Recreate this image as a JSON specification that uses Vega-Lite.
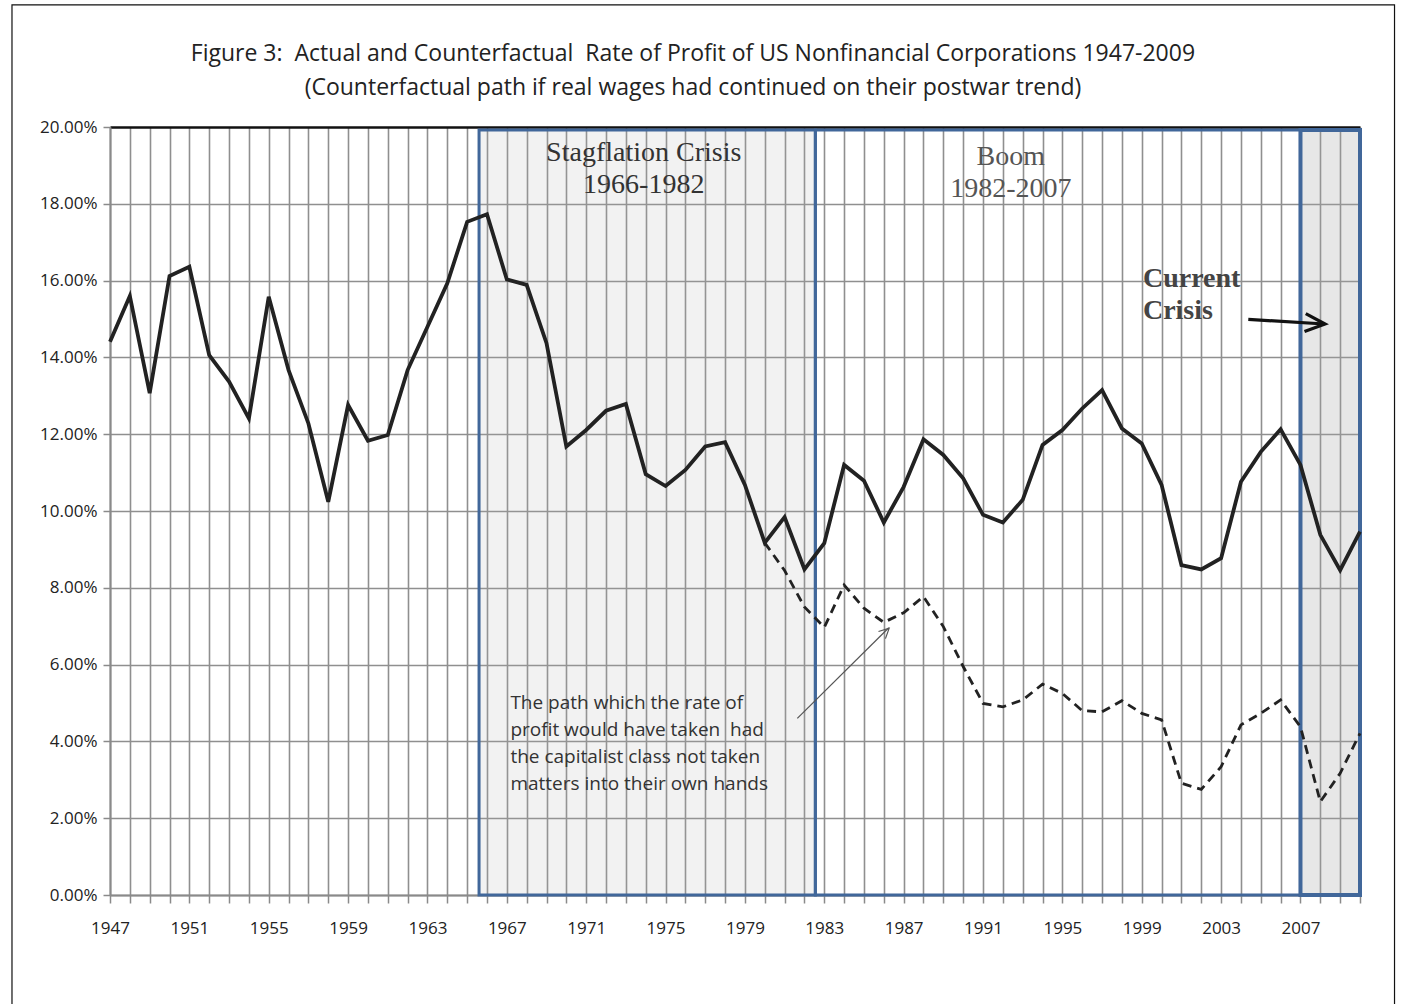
{
  "$schema": "https://vega.github.io/schema/vega-lite/v6.json",
  "autosize": "none",
  "width": 1250,
  "height": 768,
  "padding": {"left": 110, "top": 127, "right": 44, "bottom": 109},
  "background": "white",
  "config": {"view": {"stroke": null}},
  "datasets": {
    "actual": [
      {"year": 1947, "rate": 0.1441}, {"year": 1948, "rate": 0.1560}, {"year": 1949, "rate": 0.1307},
      {"year": 1950, "rate": 0.1612}, {"year": 1951, "rate": 0.1636}, {"year": 1952, "rate": 0.1406},
      {"year": 1953, "rate": 0.1337}, {"year": 1954, "rate": 0.1241}, {"year": 1955, "rate": 0.1558},
      {"year": 1956, "rate": 0.1367}, {"year": 1957, "rate": 0.1228}, {"year": 1958, "rate": 0.1024},
      {"year": 1959, "rate": 0.1276}, {"year": 1960, "rate": 0.1183}, {"year": 1961, "rate": 0.1198},
      {"year": 1962, "rate": 0.1367}, {"year": 1963, "rate": 0.1480}, {"year": 1964, "rate": 0.1593},
      {"year": 1965, "rate": 0.1753}, {"year": 1966, "rate": 0.1773}, {"year": 1967, "rate": 0.1603},
      {"year": 1968, "rate": 0.1589}, {"year": 1969, "rate": 0.1437}, {"year": 1970, "rate": 0.1168},
      {"year": 1971, "rate": 0.1211}, {"year": 1972, "rate": 0.1261}, {"year": 1973, "rate": 0.1279},
      {"year": 1974, "rate": 0.1096}, {"year": 1975, "rate": 0.1065}, {"year": 1976, "rate": 0.1107},
      {"year": 1977, "rate": 0.1168}, {"year": 1978, "rate": 0.1179}, {"year": 1979, "rate": 0.1068},
      {"year": 1980, "rate": 0.0917}, {"year": 1981, "rate": 0.0984}, {"year": 1982, "rate": 0.0848},
      {"year": 1983, "rate": 0.0916}, {"year": 1984, "rate": 0.1120}, {"year": 1985, "rate": 0.1079},
      {"year": 1986, "rate": 0.0970}, {"year": 1987, "rate": 0.1063}, {"year": 1988, "rate": 0.1187},
      {"year": 1989, "rate": 0.1146}, {"year": 1990, "rate": 0.1085}, {"year": 1991, "rate": 0.0990},
      {"year": 1992, "rate": 0.0970}, {"year": 1993, "rate": 0.1029}, {"year": 1994, "rate": 0.1172},
      {"year": 1995, "rate": 0.1211}, {"year": 1996, "rate": 0.1267}, {"year": 1997, "rate": 0.1315},
      {"year": 1998, "rate": 0.1215}, {"year": 1999, "rate": 0.1176}, {"year": 2000, "rate": 0.1068},
      {"year": 2001, "rate": 0.0859}, {"year": 2002, "rate": 0.0848}, {"year": 2003, "rate": 0.0877},
      {"year": 2004, "rate": 0.1076}, {"year": 2005, "rate": 0.1154}, {"year": 2006, "rate": 0.1213},
      {"year": 2007, "rate": 0.1120}, {"year": 2008, "rate": 0.0938}, {"year": 2009, "rate": 0.0846},
      {"year": 2010, "rate": 0.0946}
    ],
    "counterfactual": [
      {"year": 1980, "rate": 0.0917}, {"year": 1981, "rate": 0.0845}, {"year": 1982, "rate": 0.0750},
      {"year": 1983, "rate": 0.0697}, {"year": 1984, "rate": 0.0807}, {"year": 1985, "rate": 0.0747},
      {"year": 1986, "rate": 0.0710}, {"year": 1987, "rate": 0.0735}, {"year": 1988, "rate": 0.0777},
      {"year": 1989, "rate": 0.0699}, {"year": 1990, "rate": 0.0595}, {"year": 1991, "rate": 0.0499},
      {"year": 1992, "rate": 0.0490}, {"year": 1993, "rate": 0.0508}, {"year": 1994, "rate": 0.0549},
      {"year": 1995, "rate": 0.0525}, {"year": 1996, "rate": 0.0480}, {"year": 1997, "rate": 0.0477},
      {"year": 1998, "rate": 0.0506}, {"year": 1999, "rate": 0.0473}, {"year": 2000, "rate": 0.0456},
      {"year": 2001, "rate": 0.0291}, {"year": 2002, "rate": 0.0275}, {"year": 2003, "rate": 0.0334},
      {"year": 2004, "rate": 0.0443}, {"year": 2005, "rate": 0.0473}, {"year": 2006, "rate": 0.0508},
      {"year": 2007, "rate": 0.0438}, {"year": 2008, "rate": 0.0243}, {"year": 2009, "rate": 0.0317},
      {"year": 2010, "rate": 0.0421}
    ],
    "periods": [
      {"period": "Stagflation Crisis", "year": 1965.6, "year2": 1982.55, "rate": 0, "rate2": 0.1992},
      {"period": "Boom", "year": 1982.55, "year2": 2007.0, "rate": 0, "rate2": 0.1992},
      {"period": "Current Crisis", "year": 2007.0, "year2": 2010.0, "rate": 0, "rate2": 0.1992}
    ],
    "frame": [
      {"year": 1942.06, "year2": 2011.74, "rate": -0.03, "rate2": 0.2318}
    ],
    "bigArrow": [
      {"year": 2004.37, "rate": 0.1499}, {"year": 2008.2, "rate": 0.1487}
    ],
    "bigArrowHead": [{"year": 2008.24, "rate": 0.1487}],
    "thinArrow": [
      {"year": 1981.64, "rate": 0.0460}, {"year": 1986.25, "rate": 0.0696}
    ],
    "thinArrowHead": [{"year": 1986.27, "rate": 0.0695}]
  },
  "encoding": {
    "x": {
      "field": "year", "type": "quantitative",
      "scale": {"domain": [1947, 2010], "nice": false, "zero": false},
      "axis": {
        "title": null,
        "values": [1947,1948,1949,1950,1951,1952,1953,1954,1955,1956,1957,1958,1959,1960,1961,1962,1963,1964,1965,1966,1967,1968,1969,1970,1971,1972,1973,1974,1975,1976,1977,1978,1979,1980,1981,1982,1983,1984,1985,1986,1987,1988,1989,1990,1991,1992,1993,1994,1995,1996,1997,1998,1999,2000,2001,2002,2003,2004,2005,2006,2007,2008,2009,2010],
        "format": "d",
        "labelExpr": "(datum.value - 1947) % 4 == 0 ? datum.label : ''",
        "labelOverlap": false, "labelFlush": false,
        "labelFont": "Open Sans", "labelFontSize": 17, "labelColor": "#222222",
        "labelPadding": 17,
        "grid": true, "gridColor": "#8f8f8f", "gridWidth": 1.6,
        "domain": true, "domainColor": "#8a8a8a", "domainWidth": 2,
        "ticks": true, "tickColor": "#8a8a8a", "tickSize": 8, "tickWidth": 1.5
      }
    },
    "y": {
      "field": "rate", "type": "quantitative",
      "scale": {"domain": [0, 0.2], "nice": false, "zero": false},
      "axis": {
        "title": null,
        "values": [0, 0.02, 0.04, 0.06, 0.08, 0.1, 0.12, 0.14, 0.16, 0.18, 0.2],
        "format": ".2%",
        "labelFont": "Open Sans", "labelFontSize": 17, "labelColor": "#222222",
        "labelPadding": 6,
        "grid": true,
        "gridColor": {"condition": {"test": "datum.value >= 0.199", "value": "#111111"}, "value": "#8f8f8f"},
        "gridWidth": {"condition": {"test": "datum.value >= 0.199", "value": 2.6}, "value": 1.6},
        "domain": true, "domainColor": "#8a8a8a", "domainWidth": 2,
        "ticks": true, "tickColor": "#8a8a8a", "tickSize": 7, "tickWidth": 1.5
      }
    }
  },
  "layer": [
    {
      "data": {"name": "frame"},
      "mark": {"type": "rect", "fill": null, "stroke": "#111111", "strokeWidth": 1.2, "clip": false},
      "encoding": {"x2": {"field": "year2"}, "y2": {"field": "rate2"}}
    },
    {
      "data": {"name": "periods"},
      "transform": [{"filter": "datum.period == 'Stagflation Crisis'"}],
      "mark": {"type": "rect", "fill": "#b4b4b4", "fillOpacity": 0.17, "stroke": "#41679a", "strokeWidth": 3},
      "encoding": {"x2": {"field": "year2"}, "y2": {"field": "rate2"}}
    },
    {
      "data": {"name": "periods"},
      "transform": [{"filter": "datum.period == 'Boom'"}],
      "mark": {"type": "rect", "fill": null, "stroke": "#41679a", "strokeWidth": 3},
      "encoding": {"x2": {"field": "year2"}, "y2": {"field": "rate2"}}
    },
    {
      "data": {"name": "periods"},
      "transform": [{"filter": "datum.period == 'Current Crisis'"}],
      "mark": {"type": "rect", "fill": "#a8a8a8", "fillOpacity": 0.27, "stroke": "#41679a", "strokeWidth": 4},
      "encoding": {"x2": {"field": "year2"}, "y2": {"field": "rate2"}}
    },
    {
      "data": {"name": "counterfactual"},
      "mark": {"type": "line", "color": "#222222", "strokeWidth": 2.8, "strokeDash": [9, 6]}
    },
    {
      "data": {"name": "actual"},
      "mark": {"type": "line", "color": "#222222", "strokeWidth": 3.8}
    },
    {
      "data": {"name": "bigArrow"},
      "mark": {"type": "line", "color": "#111111", "strokeWidth": 3.2}
    },
    {
      "data": {"name": "bigArrowHead"},
      "mark": {"type": "point", "shape": "M-1,-0.45L0,0L-1,0.45", "filled": false, "stroke": "#111111", "strokeWidth": 3.2, "size": 1600, "angle": 4, "opacity": 1}
    },
    {
      "data": {"name": "thinArrow"},
      "mark": {"type": "line", "color": "#555555", "strokeWidth": 1.2}
    },
    {
      "data": {"name": "thinArrowHead"},
      "mark": {"type": "point", "shape": "M-1,-0.5L0,0L-1,0.5", "filled": false, "stroke": "#555555", "strokeWidth": 1.2, "size": 400, "angle": 316, "opacity": 1}
    },
    {
      "data": {"values": [{"year": 1976.38, "rate": 0.2172, "label": ["Figure 3:\u00a0 Actual and Counterfactual\u00a0 Rate of Profit of US Nonfinancial Corporations 1947-2009", "(Counterfactual path if real wages had continued on their postwar trend)"]}]},
      "mark": {"type": "text", "font": "Open Sans", "fontSize": 23, "color": "#222222", "align": "center", "baseline": "alphabetic", "lineHeight": 34, "clip": false},
      "encoding": {"text": {"field": "label"}}
    },
    {
      "data": {"values": [{"year": 1973.9, "rate": 0.1912, "label": ["Stagflation Crisis", "1966-1982"]}]},
      "mark": {"type": "text", "font": "Liberation Serif", "fontSize": 28, "color": "#333333", "align": "center", "baseline": "alphabetic", "lineHeight": 32},
      "encoding": {"text": {"field": "label"}}
    },
    {
      "data": {"values": [{"year": 1992.4, "rate": 0.1901, "label": ["Boom", "1982-2007"]}]},
      "mark": {"type": "text", "font": "Liberation Serif", "fontSize": 28, "color": "#555555", "align": "center", "baseline": "alphabetic", "lineHeight": 32},
      "encoding": {"text": {"field": "label"}}
    },
    {
      "data": {"values": [{"year": 1999.06, "rate": 0.1583, "label": ["Current", "Crisis"]}]},
      "mark": {"type": "text", "font": "Liberation Serif", "fontSize": 28, "fontWeight": "bold", "color": "#444444", "align": "left", "baseline": "alphabetic", "lineHeight": 32},
      "encoding": {"text": {"field": "label"}}
    },
    {
      "data": {"values": [{"year": 1967.18, "rate": 0.0484, "label": ["The path which the rate of", "profit would have taken\u00a0 had", "the capitalist class not taken", "matters into their own hands"]}]},
      "mark": {"type": "text", "font": "Open Sans", "fontSize": 19, "color": "#333333", "align": "left", "baseline": "alphabetic", "lineHeight": 26.9},
      "encoding": {"text": {"field": "label"}}
    }
  ]
}
